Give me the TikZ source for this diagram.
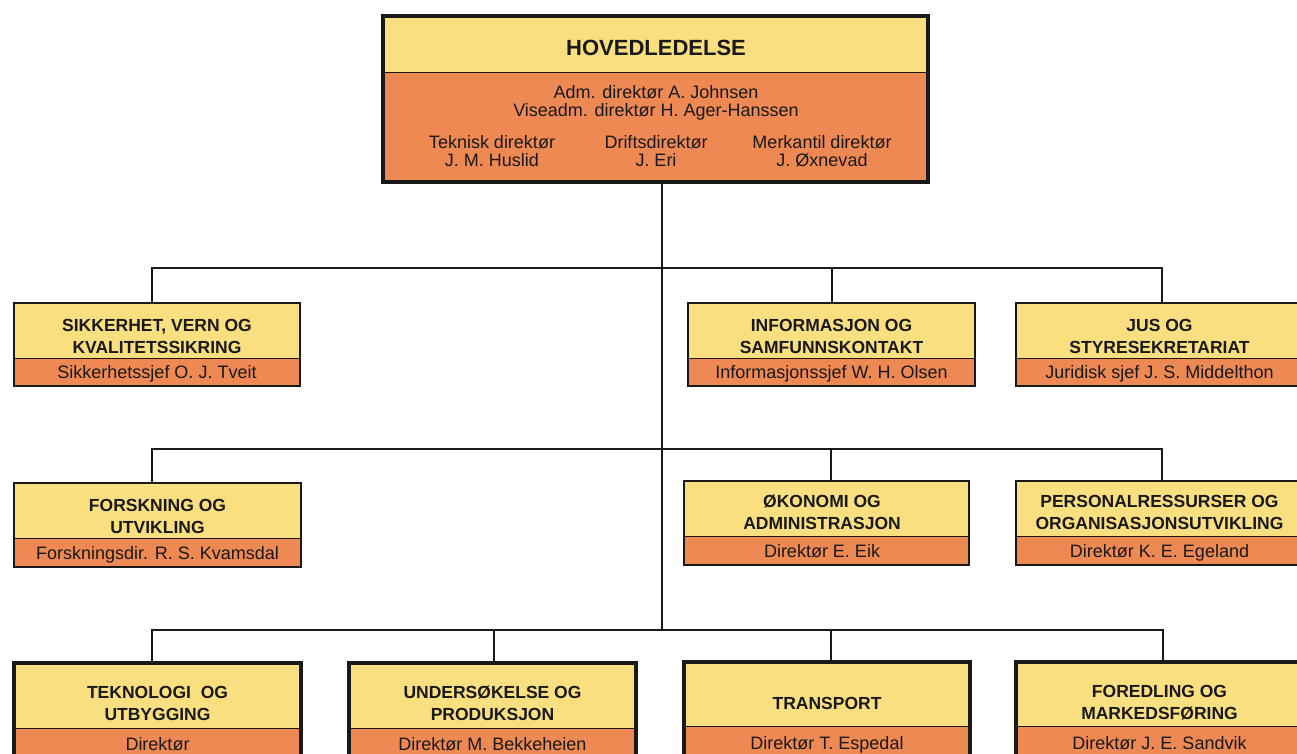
\documentclass[tikz,border=0pt]{standalone}
\usepackage{fontspec}
\setmainfont{Liberation Sans}
\definecolor{yel}{RGB}{250,223,128}
\definecolor{org}{RGB}{238,137,84}
\definecolor{ink}{RGB}{25,25,25}
\tikzset{
  frame/.style={draw=ink, fill=yel, line width=2.5pt, inner sep=0pt},
  bigframe/.style={frame, line width=4pt},
  orangebase/.style={path picture={
    \fill[org] (path picture bounding box.south west) rectangle ([yshift=#1]path picture bounding box.south east);
    \draw[ink, line width=1pt] ([yshift=#1]path picture bounding box.south west) -- ([yshift=#1]path picture bounding box.south east);}},
  hd/.style={font=\bfseries\fontsize{17.5}{22}\selectfont, align=center, inner sep=0pt, text=ink, text depth=0pt},
  nm/.style={font=\fontsize{18}{18}\selectfont, align=center, inner sep=0pt, text=ink, text depth=0pt},
  link/.style={draw=ink, line width=2pt},
}
\begin{document}
\begin{tikzpicture}[x=1pt, y=-1pt]
\path[use as bounding box] (0,0) rectangle (1297,754);
\clip (0,0) rectangle (1297,754);

% frames
\node[bigframe, orangebase=109pt, minimum width=545pt, minimum height=166pt] (top) at (655.5,99) {};
\node[frame, orangebase=28pt, minimum width=286pt, minimum height=83pt] (sik) at (157,344.5) {};
\node[frame, orangebase=28pt, minimum width=287pt, minimum height=83pt] (info) at (831.5,344.5) {};
\node[frame, orangebase=28pt, minimum width=287pt, minimum height=83pt] (jus) at (1159.5,344.5) {};
\node[frame, orangebase=29pt, minimum width=287pt, minimum height=84pt] (fou) at (157.5,525) {};
\node[frame, orangebase=29pt, minimum width=285pt, minimum height=84pt] (oko) at (826.5,523) {};
\node[frame, orangebase=29pt, minimum width=287pt, minimum height=84pt] (pers) at (1159.5,523) {};
\node[bigframe, orangebase=75pt, minimum width=287pt, minimum height=140pt] (tek) at (157.5,733) {};
\node[bigframe, orangebase=75pt, minimum width=287pt, minimum height=140pt] (und) at (492.5,733) {};
\node[bigframe, orangebase=76pt, minimum width=286pt, minimum height=140pt] (tra) at (827,732) {};
\node[bigframe, orangebase=76pt, minimum width=287pt, minimum height=140pt] (for) at (1159.5,732) {};

% texts: top
\node[hd, font=\bfseries\fontsize{22}{26}\selectfont] (top-h) at (656,48) {HOVEDLEDELSE};
\node[nm] (top-a) at (656,101) {Adm. direktør A. Johnsen\\Viseadm. direktør H. Ager-Hanssen};
\node[nm] (top-t) at (492,151) {Teknisk direktør\\J. M. Huslid};
\node[nm] (top-d) at (656,151) {Driftsdirektør\\J. Eri};
\node[nm] (top-m) at (822,151) {Merkantil direktør\\J. Øxnevad};

% row 1
\node[hd] (sik-h) at (157,336) {SIKKERHET, VERN OG\\KVALITETSSIKRING};
\node[nm] (sik-n) at (157,372) {Sikkerhetssjef O. J. Tveit};
\node[hd] (info-h) at (831.5,336) {INFORMASJON OG\\SAMFUNNSKONTAKT};
\node[nm] (info-n) at (831.5,372) {Informasjonssjef W. H. Olsen};
\node[hd] (jus-h) at (1159.5,336) {JUS OG\\STYRESEKRETARIAT};
\node[nm] (jus-n) at (1159.5,372) {Juridisk sjef J. S. Middelthon};

% row 2
\node[hd] (fou-h) at (157.5,516) {FORSKNING OG\\UTVIKLING};
\node[nm] (fou-n) at (157.5,552.5) {Forskningsdir. R. S. Kvamsdal};
\node[hd] (oko-h) at (822,512) {ØKONOMI OG\\ADMINISTRASJON};
\node[nm] (oko-n) at (822,550.5) {Direktør E. Eik};
\node[hd] (pers-h) at (1159.5,512) {PERSONALRESSURSER OG\\ORGANISASJONSUTVIKLING};
\node[nm] (pers-n) at (1159.5,550.5) {Direktør K. E. Egeland};

% row 3
\node[hd] (tek-h) at (157.5,703) {TEKNOLOGI\ \ OG\\UTBYGGING};
\node[nm] (tek-n) at (157.5,744) {Direktør};
\node[hd] (und-h) at (492.5,703) {UNDERSØKELSE OG\\PRODUKSJON};
\node[nm] (und-n) at (492.5,744) {Direktør M. Bekkeheien};
\node[hd] (tra-h) at (827,703) {TRANSPORT};
\node[nm] (tra-n) at (827,743) {Direktør T. Espedal};
\node[hd] (for-h) at (1159.5,702) {FOREDLING OG\\MARKEDSFØRING};
\node[nm] (for-n) at (1159.5,743) {Direktør J. E. Sandvik};

% connectors
\coordinate (j1) at (662,268);
\coordinate (j2) at (662,449);
\coordinate (j3) at (662,630);
\draw[link] (top.south -| j1) -- (j3);
\draw[link] ([xshift=-5pt]sik.north) |- (j1) -| ([xshift=2.5pt]jus.north);
\draw[link] (info.north) |- (j1);
\draw[link] ([xshift=-5.5pt]fou.north) |- (j2) -| ([xshift=2.5pt]pers.north);
\draw[link] ([xshift=4.5pt]oko.north) |- (j2);
\draw[link] ([xshift=-5.5pt]tek.north) |- (j3) -| ([xshift=3.5pt]for.north);
\draw[link] ([xshift=1.5pt]und.north) |- (j3);
\draw[link] ([xshift=4pt]tra.north) |- (j3);
\end{tikzpicture}
\end{document}
